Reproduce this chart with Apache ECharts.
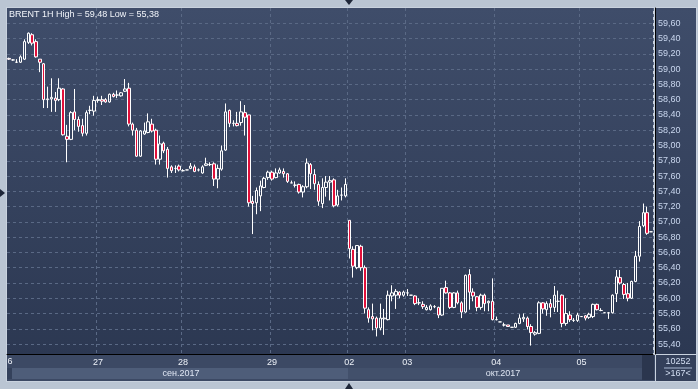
<!DOCTYPE html>
<html><head><meta charset="utf-8">
<script src="https://cdn.jsdelivr.net/npm/echarts@6/dist/echarts.min.js"></script>
<style>html,body{margin:0;padding:0;background:#bac5d3;}#c{width:698px;height:389px;}</style>
</head><body><div id="c"></div>
<script>
const opens = [59.14,59.12,59.09,59.09,59.13,59.35,59.45,59.36,59.13,59.07,58.60,58.61,58.62,58.60,58.74,58.12,58.08,58.44,58.34,58.26,58.16,58.46,58.45,58.59,58.60,58.60,58.57,58.67,58.66,58.65,58.71,58.75,58.28,58.20,57.86,58.15,58.17,58.28,58.20,57.82,58.03,57.95,57.72,57.70,57.73,57.67,57.68,57.70,57.72,57.68,57.64,57.74,57.75,57.76,57.56,57.69,57.94,58.46,58.29,58.29,58.30,58.43,58.40,57.27,57.25,57.34,57.45,57.58,57.65,57.58,57.64,57.66,57.63,57.51,57.48,57.49,57.39,57.46,57.75,57.62,57.49,57.24,57.45,57.52,57.55,57.22,57.35,57.34,57.02,56.64,56.40,56.68,56.40,55.85,55.76,55.74,55.61,55.73,55.72,56.03,56.04,56.08,56.04,56.07,56.04,56.03,55.94,55.92,55.85,55.85,55.89,55.88,55.78,56.14,56.07,55.88,56.07,55.94,55.82,56.31,56.08,56.02,55.88,56.04,55.94,55.96,55.72,55.69,55.65,55.65,55.62,55.62,55.67,55.73,55.74,55.63,55.53,55.54,55.94,55.85,55.93,55.88,55.96,56.04,55.67,55.78,55.71,55.71,55.76,55.77,55.75,55.76,55.92,55.84,55.81,55.81,55.81,56.06,56.27,56.18,56.06,56.00,56.22,56.55,56.95,57.12,56.87];
const highs = [59.15,59.13,59.13,59.18,59.39,59.48,59.47,59.39,59.13,59.08,58.77,58.88,58.70,58.88,58.75,58.27,58.45,58.74,58.38,58.35,58.46,58.52,58.65,58.64,58.65,58.62,58.68,58.69,58.72,58.70,58.87,58.82,58.30,58.23,58.20,58.30,58.42,58.35,58.22,58.13,58.05,57.98,57.74,57.74,57.75,57.69,57.68,57.77,57.75,57.70,57.74,57.84,57.78,57.78,57.75,58.00,58.55,58.47,58.33,58.44,58.58,58.53,58.40,57.34,57.45,57.54,57.59,57.67,57.67,57.70,57.71,57.70,57.64,57.54,57.53,57.50,57.48,57.83,57.77,57.69,57.53,57.57,57.60,57.60,57.57,57.42,57.45,57.57,57.02,56.68,56.69,56.70,56.43,55.88,55.93,55.76,55.93,55.86,56.10,56.17,56.12,56.09,56.10,56.12,56.04,56.04,56.00,55.96,55.91,55.92,55.91,55.89,56.13,56.23,56.08,56.08,56.10,55.96,56.31,56.38,56.13,56.03,56.06,56.06,55.97,56.26,55.76,55.69,55.68,55.65,55.62,55.68,55.79,55.80,55.76,55.66,55.57,55.96,55.95,55.96,55.99,56.16,56.10,56.05,56.00,55.83,55.74,55.81,55.76,55.78,55.81,55.93,55.93,55.87,55.81,55.82,56.05,56.37,56.37,56.20,56.20,56.23,56.62,57.01,57.24,57.20,56.87];
const lows = [59.12,59.11,59.08,59.08,59.12,59.33,59.31,59.15,58.96,58.49,58.49,58.44,58.44,58.58,58.13,57.78,58.07,58.20,58.18,58.12,58.13,58.41,58.39,58.56,58.53,58.56,58.56,58.63,58.62,58.64,58.70,58.25,58.13,57.85,57.85,58.14,58.16,58.17,57.75,57.75,57.90,57.58,57.64,57.64,57.66,57.66,57.68,57.69,57.65,57.66,57.63,57.73,57.73,57.47,57.44,57.67,57.93,58.24,58.25,58.25,58.26,58.13,57.20,56.84,57.10,57.14,57.44,57.55,57.54,57.57,57.63,57.58,57.51,57.51,57.45,57.37,57.32,57.44,57.43,57.42,57.21,57.18,57.33,57.28,57.19,57.20,57.28,57.32,56.52,56.27,56.38,56.36,55.80,55.68,55.58,55.50,55.58,55.52,55.71,55.96,55.86,56.00,56.02,56.03,56.04,55.91,55.91,55.86,55.84,55.84,55.87,55.74,55.77,56.06,55.86,55.87,55.92,55.74,55.81,55.85,55.96,55.83,55.85,55.83,55.83,55.71,55.71,55.69,55.63,55.63,55.62,55.61,55.66,55.69,55.59,55.38,55.51,55.53,55.80,55.77,55.75,55.82,55.82,55.62,55.64,55.69,55.69,55.69,55.76,55.71,55.73,55.74,55.84,55.83,55.81,55.73,55.80,55.95,56.18,55.99,55.96,55.99,56.21,56.48,56.93,56.83,56.87];
const closes = [59.13,59.12,59.09,59.16,59.36,59.47,59.34,59.16,59.09,58.60,58.61,58.63,58.59,58.75,58.14,58.08,58.43,58.34,58.25,58.16,58.43,58.46,58.59,58.60,58.58,58.57,58.67,58.64,58.66,58.69,58.74,58.28,58.20,57.86,58.19,58.19,58.31,58.19,57.82,58.02,57.93,57.70,57.67,57.70,57.68,57.67,57.68,57.73,57.66,57.68,57.72,57.76,57.75,57.56,57.70,57.93,58.44,58.29,58.29,58.26,58.44,58.37,57.25,57.24,57.41,57.47,57.57,57.65,57.56,57.64,57.68,57.63,57.53,57.51,57.48,57.39,57.46,57.77,57.63,57.50,57.27,57.45,57.52,57.54,57.21,57.34,57.35,57.49,56.65,56.42,56.69,56.40,55.87,55.74,55.73,55.61,55.74,55.74,56.04,56.07,56.09,56.04,56.08,56.07,56.04,55.93,55.94,55.89,55.88,55.90,55.89,55.78,56.13,56.07,55.88,56.07,55.94,55.82,56.30,56.08,56.03,55.88,56.04,55.93,55.96,55.72,55.72,55.69,55.65,55.63,55.62,55.67,55.74,55.75,55.63,55.55,55.55,55.94,55.86,55.93,55.88,56.04,55.96,55.67,55.80,55.72,55.71,55.78,55.76,55.74,55.79,55.92,55.85,55.84,55.81,55.81,56.04,56.28,56.20,56.05,56.00,56.22,56.55,56.94,57.12,56.85,56.87];
const dayLabels = ['27','28','29','02','03','04','05'];
const dayStartIdx = [23,45,68,88,103,126,148];
const priceTicks = [55.4,55.6,55.8,56.0,56.2,56.4,56.6,56.8,57.0,57.2,57.4,57.6,57.8,58.0,58.2,58.4,58.6,58.8,59.0,59.2,59.4,59.6];
const lastPrice = 56.87;
const monthLabels = ['сен.2017','окт.2017'];
const titleText = 'BRENT 1H High = 59,48 Low = 55,38';

const categories = opens.map((_, i) => 'bar' + i);
const candles = opens.map((o, i) => [o, closes[i], lows[i], highs[i]]);
const fmt = v => v.toFixed(2).replace('.', ',');
const isDay = i => dayStartIdx.indexOf(i) >= 0;

const bgGrad = {type:'linear',x:0,y:0,x2:0,y2:1,colorStops:[{offset:0,color:'#3f4d6a'},{offset:1,color:'#2c3852'}]};
const FONT = 'Liberation Sans, Arial, sans-serif';

const chart = echarts.init(document.getElementById('c'), null, {renderer:'canvas'});
chart.setOption({
  backgroundColor: '#bac5d3',
  animation: false,
  title: {text: titleText, left: 9, top: 10, padding: 0,
    textStyle: {color:'#f2f5fa', fontSize: 9, fontWeight:'normal', fontFamily: FONT}},
  grid: {left: 7, right: 45, top: 8, bottom: 35, show: true, borderWidth: 0, backgroundColor: bgGrad},
  xAxis: {
    type: 'category', data: categories, boundaryGap: true,
    axisLine: {show: true, lineStyle: {color:'#000', width: 1}},
    axisTick: {show: false},
    axisLabel: {interval: (i) => isDay(i), formatter: (v, i) => dayLabels[dayStartIdx.indexOf(i)] || '',
      color:'#eef2f8', fontSize: 9, margin: 4, fontFamily: FONT},
    splitLine: {show: true, interval: (i) => isDay(i), lineStyle: {color:'#5a6985', type:[3,3], width:1}}
  },
  yAxis: {
    type: 'value', position: 'right', min: 55.27, max: 59.8, scale: true, offset: 2,
    axisLine: {show: true, lineStyle: {color:'#000', width: 1}},
    axisTick: {show: false, customValues: priceTicks},
    axisLabel: {customValues: priceTicks, formatter: fmt, color:'#c9d6ee', fontSize: 9, margin: 3, fontFamily: FONT},
    splitLine: {show: true, lineStyle: {color:'#5a6985', type:[3,3], width:1}}
  },
  series: [{
    type: 'candlestick', data: candles, barWidth: 3,
    itemStyle: {color:'transparent', color0:'#e0103a', borderColor:'#ffffff', borderColor0:'#ffffff', borderColorDoji:'#ffffff', borderWidth: 1},
    markLine: {symbol: 'none', silent: true, animation: false,
      lineStyle: {opacity: 0},
      label: {position: 'end', formatter: fmt(lastPrice), backgroundColor:'#c6cdd8', color:'#1b2130',
        fontSize: 9, padding: [2, 11, 2, 4], distance: 2, fontFamily: FONT},
      data: [{yAxis: lastPrice}]}
  }],
  graphic: [
    {type:'rect', z:-10, shape:{x:6, y:7, width:691, height:375}, style:{fill:'#c9d2de'}},
    {type:'rect', z:-9, shape:{x:655, y:8, width:41, height:346}, style:{fill:bgGrad}},
    {type:'rect', z:-9, shape:{x:7, y:355, width:648, height:26}, style:{fill:'#3c4964'}},
    {type:'rect', z:-8, shape:{x:12, y:368, width:336, height:11}, style:{fill:'#4e5d79'}},
    {type:'rect', z:-8, shape:{x:7, y:368, width:5, height:11}, style:{fill:'#34415b'}},
    {type:'rect', z:-8, shape:{x:348, y:368, width:294, height:11}, style:{fill:'#42506b'}},
    {type:'rect', z:-8, shape:{x:642, y:355, width:12, height:25}, style:{fill:'#2b364e'}},
    {type:'rect', z:-9, shape:{x:656, y:355, width:40, height:26}, style:{fill:'#34405a'}},
    {type:'line', z:5, shape:{x1:664, y1:368, x2:692, y2:368}, style:{stroke:'#a9b8d2', lineWidth:1}},
    {type:'text', z:5, x:678, y:362, style:{text:'10252', fill:'#d3def2', font:'9px '+FONT, textAlign:'center', textVerticalAlign:'middle'}},
    {type:'text', z:5, x:678, y:374, style:{text:'>167<', fill:'#d3def2', font:'9px '+FONT, textAlign:'center', textVerticalAlign:'middle'}},
    {type:'text', z:5, x:181, y:374, style:{text:monthLabels[0], fill:'#dfe6f3', font:'9px '+FONT, textAlign:'center', textVerticalAlign:'middle'}},
    {type:'text', z:5, x:503, y:374, style:{text:monthLabels[1], fill:'#dfe6f3', font:'9px '+FONT, textAlign:'center', textVerticalAlign:'middle'}},
    {type:'text', z:5, x:10, y:362, style:{text:'6', fill:'#eef2f8', font:'9px '+FONT, textAlign:'center', textVerticalAlign:'middle'}},
    {type:'polygon', z:5, shape:{points:[[345,0],[353,0],[349,5]]}, style:{fill:'#1e2638'}},
    {type:'polygon', z:5, shape:{points:[[345,389],[353,389],[349,383]]}, style:{fill:'#1e2638'}},
    {type:'polygon', z:5, shape:{points:[[0,189],[0,197],[5,193]]}, style:{fill:'#1e2638'}}
  ]
});
</script></body></html>
